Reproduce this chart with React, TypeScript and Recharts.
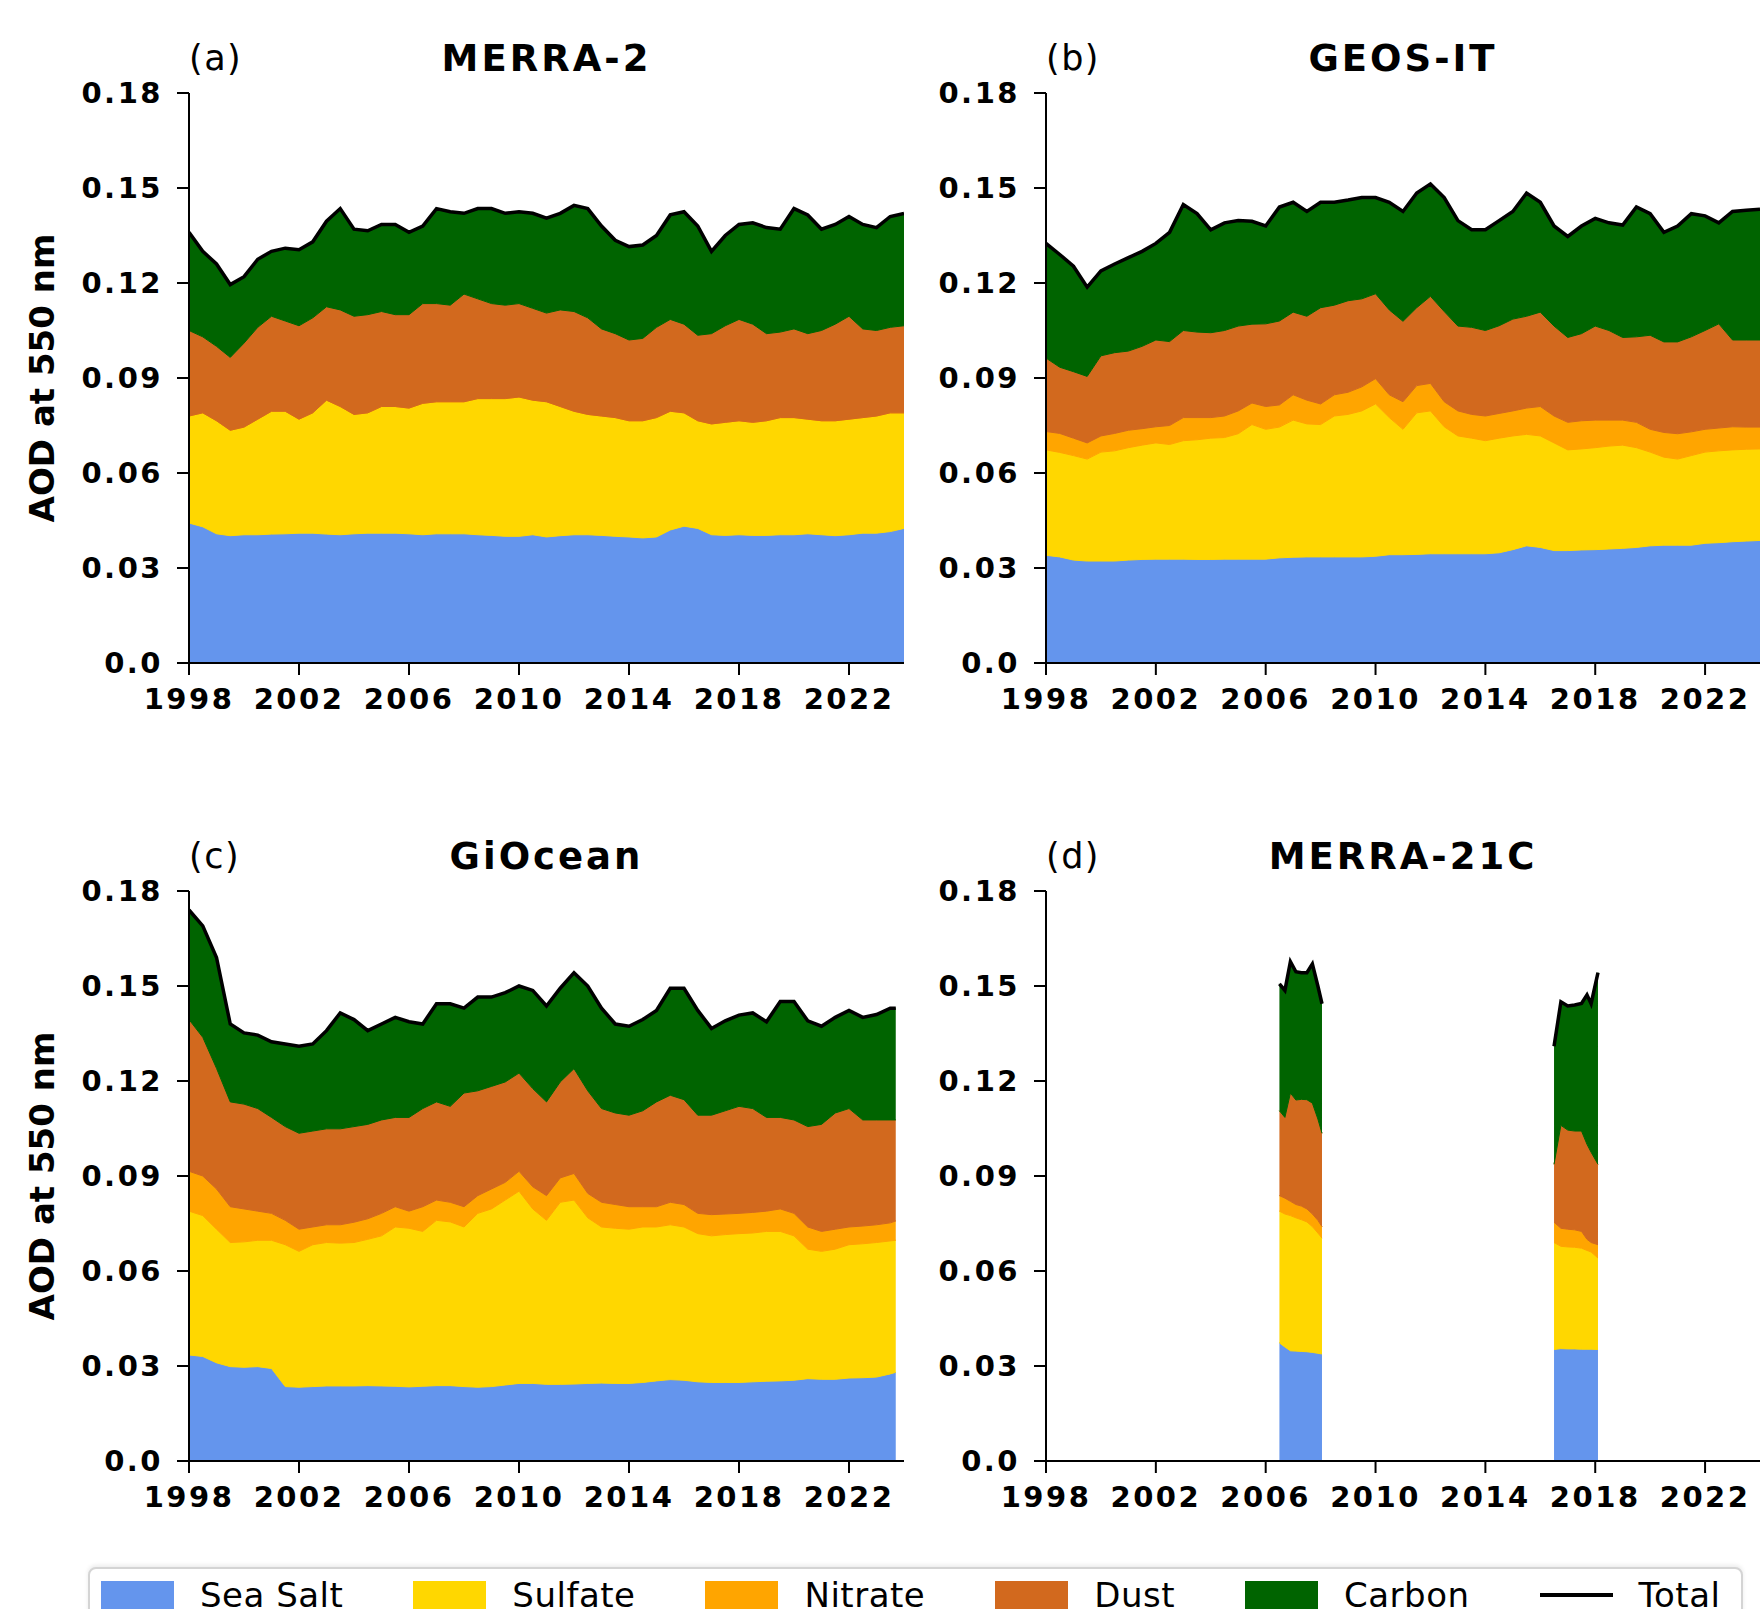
import { ComposedChart, Area, Line, XAxis, YAxis } from 'recharts';

// half-year sampling (AOD at 550 nm, cumulative layer tops)
const years = [
  1998, 1998.5, 1999, 1999.5, 2000, 2000.5, 2001, 2001.5, 2002, 2002.5,
  2003, 2003.5, 2004, 2004.5, 2005, 2005.5, 2006, 2006.5, 2007, 2007.5,
  2008, 2008.5, 2009, 2009.5, 2010, 2010.5, 2011, 2011.5, 2012, 2012.5,
  2013, 2013.5, 2014, 2014.5, 2015, 2015.5, 2016, 2016.5, 2017, 2017.5,
  2018, 2018.5, 2019, 2019.5, 2020, 2020.5, 2021, 2021.5, 2022, 2022.5,
  2023, 2023.5, 2024,
];
const goYears = [
  1998, 1998.5, 1999, 1999.5, 2000, 2000.5, 2001, 2001.5, 2002, 2002.5,
  2003, 2003.5, 2004, 2004.5, 2005, 2005.5, 2006, 2006.5, 2007, 2007.5,
  2008, 2008.5, 2009, 2009.5, 2010, 2010.5, 2011, 2011.5, 2012, 2012.5,
  2013, 2013.5, 2014, 2014.5, 2015, 2015.5, 2016, 2016.5, 2017, 2017.5,
  2018, 2018.5, 2019, 2019.5, 2020, 2020.5, 2021, 2021.5, 2022, 2022.5,
  2023, 2023.5, 2023.7,
];
const m21Years = [
  2006.5, 2006.7, 2006.9, 2007.1, 2007.3, 2007.5, 2007.7, 2007.9, 2008.05,
  2012,
  2016.5, 2016.75, 2017.0, 2017.25, 2017.5, 2017.7, 2017.85, 2018.1,
];

// (a) MERRA-2
const m2SeaSalt = [
  .0442, .0430, .0408, .0402, .0405, .0405, .0407, .0408, .0410, .0410,
  .0407, .0405, .0408, .0410, .0410, .0410, .0408, .0405, .0408, .0408,
  .0408, .0405, .0403, .0400, .0400, .0405, .0398, .0402, .0405, .0405,
  .0403, .0400, .0398, .0395, .0398, .0420, .0432, .0425, .0405, .0403,
  .0405, .0403, .0403, .0405, .0405, .0408, .0405, .0402, .0405, .0410,
  .0410, .0415, .0425,
];
const m2SulfateTop = [
  .078, .079, .0765, .0735, .0745, .077, .0795, .0795, .077, .079,
  .083, .081, .0785, .079, .081, .081, .0805, .082, .0825, .0825,
  .0825, .0835, .0835, .0835, .084, .083, .0825, .081, .0795, .0785,
  .078, .0775, .0765, .0765, .0775, .0795, .079, .0765, .0755, .076,
  .0765, .076, .0765, .0775, .0775, .077, .0765, .0765, .077, .0775,
  .078, .079, .079,
];
const m2NitrateTop = m2SulfateTop;
const m2DustTop = [
  .105, .103, .100, .0965, .101, .106, .1095, .108, .1065, .109,
  .1125, .1115, .1095, .110, .111, .110, .110, .1135, .1135, .113,
  .1165, .115, .1135, .113, .1135, .112, .1105, .1115, .111, .109,
  .1055, .104, .102, .1025, .106, .1085, .107, .1035, .104, .1065,
  .1085, .107, .104, .1045, .1055, .104, .105, .107, .1095, .1055,
  .105, .106, .1065,
];
const m2Total = [
  .136, .130, .126, .1195, .122, .1275, .130, .131, .1305, .133,
  .1395, .1435, .137, .1365, .1385, .1385, .136, .138, .1435, .1425,
  .142, .1435, .1435, .142, .1425, .142, .1405, .142, .1445, .1435,
  .138, .1335, .1315, .132, .135, .1415, .1425, .138, .130, .135,
  .1385, .139, .1375, .137, .1435, .1415, .137, .1385, .141, .1385,
  .1375, .141, .142,
];

// (b) GEOS-IT
const gitSeaSalt = [
  .034, .0335, .0325, .0322, .0322, .0322, .0325, .0327, .0328, .0328,
  .0328, .0327, .0327, .0328, .0328, .0328, .0328, .0332, .0334, .0335,
  .0335, .0335, .0335, .0335, .0337, .0342, .0342, .0343, .0345, .0345,
  .0345, .0345, .0345, .0348, .0358, .037, .0365, .0355, .0355, .0357,
  .0358, .036, .0362, .0365, .037, .0372, .0372, .0372, .0378, .038,
  .0383, .0385, .0387,
];
const gitSulfateTop = [
  .0673, .0665, .0655, .0644, .0666, .067, .068, .0688, .0695, .069,
  .0702, .0705, .071, .0712, .0724, .0753, .0738, .0745, .0767, .0755,
  .0753, .078, .0785, .0796, .0818, .0775, .0738, .079, .0796, .0746,
  .0717, .071, .0702, .071, .0717, .0722, .0717, .0695, .0673, .0676,
  .068, .0685, .0688, .068, .0666, .065, .0644, .0655, .0666, .067,
  .0673, .0675, .0676,
];
const gitNitrateTop = [
  .0731, .0725, .071, .0695, .0717, .0725, .0735, .074, .0746, .075,
  .0775, .0775, .0775, .078, .0796, .0821, .081, .0815, .0847, .083,
  .0818, .0847, .0855, .0872, .0898, .0847, .0825, .0876, .0883, .0825,
  .0796, .0785, .078, .0788, .0796, .0805, .081, .078, .076, .0765,
  .0767, .0767, .0767, .076, .0738, .0728, .0724, .073, .0738, .0742,
  .0746, .0745, .0745,
];
const gitDustTop = [
  .0963, .0934, .092, .0905, .097, .098, .0985, .100, .102, .1015,
  .105, .1045, .1043, .105, .1064, .107, .1071, .108, .1108, .1095,
  .1122, .113, .1144, .115, .1166, .1115, .1079, .1122, .1158, .111,
  .1064, .106, .105, .1065, .1086, .1095, .1108, .1064, .1028, .104,
  .1064, .105, .1028, .103, .1035, .1014, .1014, .103, .105, .1071,
  .102, .102, .102,
];
const gitTotal = [
  .1325, .129, .1253, .1187, .1238, .126, .128, .130, .1325, .136,
  .1448, .1419, .1368, .139, .1397, .1395, .138, .144, .1455, .1426,
  .1455, .1455, .1462, .147, .147, .1455, .1426, .1484, .1513, .147,
  .1397, .1368, .1368, .1397, .1426, .1484, .1455, .138, .1347, .138,
  .1404, .139, .1383, .144, .1419, .136, .138, .1419, .1412, .139,
  .1426, .143, .1433,
];

// (c) GiOcean
const goSeaSalt = [
  .0335, .033, .031, .0298, .0296, .0298, .0292, .0235, .0233, .0235,
  .0237, .0237, .0237, .0238, .0237, .0236, .0234, .0236, .0238, .0238,
  .0235, .0233, .0235, .024, .0245, .0245, .0242, .0242, .0243, .0245,
  .0246, .0245, .0245, .0248, .0253, .0257, .0255, .025, .0248, .0248,
  .0248, .025, .0252, .0253, .0255, .026, .0258, .0258, .0262, .0263,
  .0265, .0275, .028,
];
const goSulfateTop = [
  .0789, .0775, .0732, .069, .0692, .0697, .0697, .0683, .0662, .0683,
  .069, .0688, .069, .070, .0711, .0739, .0735, .0725, .076, .0755,
  .0739, .0782, .0796, .0824, .0852, .0796, .076, .0817, .0824, .0768,
  .0739, .0735, .0732, .0739, .0739, .0746, .0739, .0718, .0711, .0715,
  .0718, .072, .0725, .0725, .0711, .0669, .0662, .0669, .0683, .0686,
  .069, .0695, .0697,
];
const goNitrateTop = [
  .0915, .090, .0859, .0803, .0796, .0789, .0782, .076, .0732, .0739,
  .0746, .0746, .0754, .0765, .0782, .0803, .0789, .0803, .0824, .0817,
  .0803, .0838, .0859, .088, .0915, .0866, .0838, .0894, .0908, .0845,
  .0817, .081, .0803, .0803, .0803, .0817, .081, .0782, .0778, .078,
  .0782, .0785, .0789, .0796, .0782, .0739, .0725, .0732, .0739, .0742,
  .0746, .0752, .0758,
];
const goDustTop = [
  .1394, .1338, .124, .1134, .1127, .1113, .1085, .1056, .1035, .1042,
  .1049, .1049, .1056, .1063, .1077, .1085, .1085, .1113, .1134, .112,
  .1162, .1169, .1183, .1197, .1225, .1176, .1134, .1197, .1239, .1169,
  .1113, .1099, .1092, .1106, .1134, .1155, .1141, .1092, .1092, .1106,
  .112, .1113, .1085, .1085, .1077, .1056, .1063, .1099, .1113, .1077,
  .1077, .1077, .1077,
];
const goTotal = [
  .174, .169, .159, .138, .1352, .1345, .1324, .1317, .131, .1317,
  .1359, .1415, .1394, .1359, .138, .1401, .1387, .138, .1444, .1444,
  .143, .1465, .1465, .1479, .150, .1486, .1437, .1493, .1542, .150,
  .143, .138, .1373, .1394, .1423, .1493, .1493, .1423, .1366, .139,
  .1408, .1415, .1387, .1451, .1451, .139, .1373, .1401, .1423, .1401,
  .141, .143, .143,
];

// (d) MERRA-21C, two short segments (null = no data)
const m21SeaSalt = [
  .0373, .036, .0348, .0347, .0346, .0345, .0343, .034, .0338,
  null,
  .0352, .0355, .0354, .0354, .0353, .0353, .0353, .0352,
];
const m21SulfateTop = [
  .0789, .078, .0775, .0768, .0762, .0755, .074, .072, .0704,
  null,
  .069, .0678, .0676, .0675, .0672, .0665, .066, .0641,
];
const m21NitrateTop = [
  .0838, .083, .082, .081, .0805, .0796, .078, .076, .074,
  null,
  .0754, .0735, .0732, .073, .0725, .070, .069, .0683,
];
const m21DustTop = [
  .1106, .1085, .1162, .114, .1142, .1141, .113, .108, .1035,
  null,
  .0937, .106, .1045, .1042, .1042, .100, .0975, .0937,
];
const m21Total = [
  .1507, .1486, .1577, .1545, .1542, .1542, .157, .150, .1444,
  null,
  .131, .145, .1437, .144, .1445, .1472, .1444, .1542,
];

const xTicks = [1998, 2002, 2006, 2010, 2014, 2018, 2022];
const yTicks = [0, 0.03, 0.06, 0.09, 0.12, 0.15, 0.18];
const yTickLabels = ['0.0', '0.03', '0.06', '0.09', '0.12', '0.15', '0.18'];

const layers = [
  { key: 'seaSalt', name: 'Sea Salt', color: '#6495ED' },
  { key: 'sulfate', name: 'Sulfate', color: '#FFD700' },
  { key: 'nitrate', name: 'Nitrate', color: '#FFA500' },
  { key: 'dust', name: 'Dust', color: '#D2691E' },
  { key: 'carbon', name: 'Carbon', color: '#006400' },
];

type Num = number | null;

function buildRows(x: number[], ss: Num[], su: Num[], ni: Num[], du: Num[], tot: Num[]) {
  return x.map((year, i) => {
    const has = tot[i] != null;
    return {
      year,
      seaSalt: has ? [0, ss[i]] : null,
      sulfate: has ? [ss[i], su[i]] : null,
      nitrate: has ? [su[i], ni[i]] : null,
      dust: has ? [ni[i], du[i]] : null,
      carbon: has ? [du[i], tot[i]] : null,
      total: has ? tot[i] : null,
    };
  });
}

const panels = [
  { tag: '(a)', title: 'MERRA-2', left: 0, top: 0, rows: buildRows(years, m2SeaSalt, m2SulfateTop, m2NitrateTop, m2DustTop, m2Total) },
  { tag: '(b)', title: 'GEOS-IT', left: 857, top: 0, rows: buildRows(years, gitSeaSalt, gitSulfateTop, gitNitrateTop, gitDustTop, gitTotal) },
  { tag: '(c)', title: 'GiOcean', left: 0, top: 800, rows: buildRows(goYears, goSeaSalt, goSulfateTop, goNitrateTop, goDustTop, goTotal) },
  { tag: '(d)', title: 'MERRA-21C', left: 857, top: 800, rows: buildRows(m21Years, m21SeaSalt, m21SulfateTop, m21NitrateTop, m21DustTop, m21Total) },
];

const FONT = '"DejaVu Sans", Verdana, sans-serif';
const Y_AXIS_W = 189;

function Panel({ p, isLeft, isTop }: { p: typeof panels[number]; isLeft: boolean; isTop: boolean }) {
  const width = isLeft ? 940 : 905;
  const right = isLeft ? 36 : 2;
  const height = isTop ? 740 : 738;
  const mTop = isTop ? 93 : 91;
  const plotW = width - Y_AXIS_W - right;
  const baseline = p.top + mTop - 22;
  const axisStroke = { stroke: '#000', strokeWidth: 2 };
  return (
    <>
      <div style={{ position: 'absolute', left: p.left + Y_AXIS_W, top: baseline - 30, fontSize: 35, lineHeight: '35px', letterSpacing: 1.5, color: '#000' }}>
        {p.tag}
      </div>
      <div style={{ position: 'absolute', left: p.left + Y_AXIS_W, width: plotW, top: baseline - 31, fontSize: 37, lineHeight: '37px', fontWeight: 'bold', letterSpacing: 3, textAlign: 'center', color: '#000' }}>
        {p.title}
      </div>
      <div style={{ position: 'absolute', left: p.left, top: p.top }}>
        <ComposedChart width={width} height={height} data={p.rows} margin={{ top: mTop, right, bottom: 17, left: 0 }}>
          <XAxis
            dataKey="year"
            type="number"
            domain={[1998, 2024]}
            allowDataOverflow
            ticks={xTicks}
            interval={0}
            height={60}
            tickSize={12}
            tickMargin={13}
            axisLine={axisStroke}
            tickLine={axisStroke}
            tick={{ fill: '#000', fontSize: 29, fontWeight: 700 }}
          />
          <XAxis xAxisId="top" orientation="top" type="number" domain={[1998, 2024]} height={0} tick={false} tickLine={false} axisLine={axisStroke} />
          <YAxis
            type="number"
            domain={[0, 0.18]}
            allowDataOverflow
            ticks={yTicks}
            interval={0}
            width={Y_AXIS_W}
            tickSize={12}
            tickMargin={14}
            axisLine={axisStroke}
            tickLine={axisStroke}
            tickFormatter={(v: number) => yTickLabels[yTicks.findIndex((t) => Math.abs(t - v) < 1e-9)] ?? String(v)}
            tick={{ fill: '#000', fontSize: 29, fontWeight: 700 }}
            label={
              isLeft
                ? {
                    value: 'AOD at 550 nm',
                    angle: -90,
                    position: 'insideLeft',
                    offset: 42,
                    style: { textAnchor: 'middle', fontSize: 34, fontWeight: 700, fill: '#000', fontFamily: FONT },
                  }
                : undefined
            }
          />
          <YAxis yAxisId="right" orientation="right" type="number" domain={[0, 0.18]} width={0} tick={false} tickLine={false} axisLine={axisStroke} />
          {layers.map((l) => (
            <Area
              key={l.key}
              dataKey={l.key}
              type="linear"
              fill={l.color}
              fillOpacity={1}
              stroke={l.color}
              strokeWidth={1}
              dot={false}
              activeDot={false}
              isAnimationActive={false}
            />
          ))}
          <Line dataKey="total" type="linear" stroke="#000" strokeWidth={3.5} dot={false} activeDot={false} isAnimationActive={false} />
        </ComposedChart>
      </div>
    </>
  );
}

function LegendBox() {
  const items = [...layers.map((l) => ({ name: l.name, color: l.color, line: false })), { name: 'Total', color: '#000', line: true }];
  return (
    <div
      style={{
        position: 'absolute',
        left: 88,
        top: 1567,
        width: 1655,
        height: 90,
        boxSizing: 'border-box',
        border: '2px solid #d4d4d4',
        borderRadius: 8,
        boxShadow: '0 -2px 4px rgba(0,0,0,0.08)',
        background: '#fff',
        display: 'flex',
        alignItems: 'flex-start',
        paddingLeft: 11,
        paddingTop: 12,
      }}
    >
      {items.map((it, i) => (
        <div key={it.name} style={{ display: 'flex', alignItems: 'center', height: 28, marginRight: i < items.length - 1 ? 70 : 0 }}>
          {it.line ? (
            <div style={{ width: 73, height: 4, background: it.color }} />
          ) : (
            <div style={{ width: 73, height: 28, background: it.color }} />
          )}
          <span style={{ marginLeft: 26, fontSize: 34, lineHeight: '28px', letterSpacing: 0.5, color: '#000' }}>{it.name}</span>
        </div>
      ))}
    </div>
  );
}

export default function App() {
  return (
    <div
      className="fig"
      style={{ position: 'absolute', left: 0, top: 0, width: 1762, height: 1609, overflow: 'hidden', background: '#fff', fontFamily: FONT }}
    >
      <style>{`.fig .recharts-cartesian-axis-tick-value { letter-spacing: 2.5px; font-weight: 700; }`}</style>
      {panels.map((p, i) => (
        <Panel key={p.title} p={p} isLeft={i % 2 === 0} isTop={i < 2} />
      ))}
      <LegendBox />
    </div>
  );
}
